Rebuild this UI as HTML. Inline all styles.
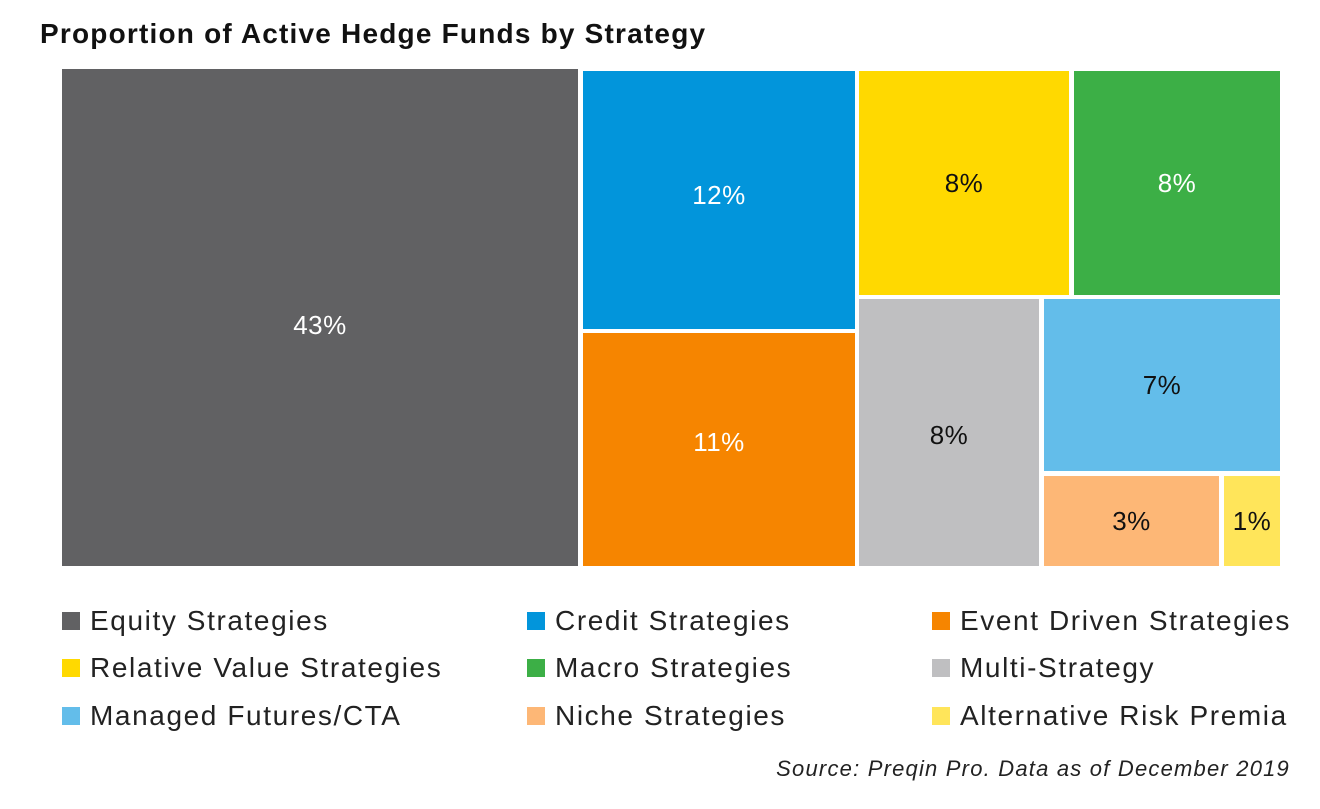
<!DOCTYPE html>
<html><head><meta charset="utf-8"><style>
body{margin:0;width:1320px;height:809px;background:#fff;font-family:"Liberation Sans",sans-serif;position:relative;overflow:hidden}
.t{position:absolute;left:40px;top:18px;font-size:28px;font-weight:bold;color:#111;letter-spacing:1.2px}
.r{position:absolute;display:flex;align-items:center;justify-content:center;font-size:26px;letter-spacing:0.5px}
.w{color:#fff}.k{color:#111}
.lg{position:absolute;font-size:28px;color:#222;display:flex;align-items:center;white-space:nowrap;letter-spacing:1.6px}
.lg i{display:inline-block;width:18px;height:18px;margin-right:10px}
.s{position:absolute;right:30px;top:756px;font-size:22px;font-style:italic;color:#222;letter-spacing:1.2px}
</style></head><body>
<div class="t">Proportion of Active Hedge Funds by Strategy</div>
<div class="r w" style="left:62px;top:69px;width:516px;height:497px;background:#616163"><span style="margin-top:16px">43%</span></div>
<div class="r w" style="left:583px;top:71px;width:272px;height:258px;background:#0295DB"><span style="margin-bottom:10px">12%</span></div>
<div class="r w" style="left:583px;top:333px;width:272px;height:233px;background:#F68500"><span style="margin-bottom:14px">11%</span></div>
<div class="r k" style="left:859px;top:71px;width:210px;height:224px;background:#FFD900">8%</div>
<div class="r w" style="left:1074px;top:71px;width:206px;height:224px;background:#3CAF46">8%</div>
<div class="r k" style="left:859px;top:299px;width:180px;height:267px;background:#BFBFC1"><span style="margin-top:6px">8%</span></div>
<div class="r k" style="left:1044px;top:299px;width:236px;height:172px;background:#63BDEA">7%</div>
<div class="r k" style="left:1044px;top:476px;width:175px;height:90px;background:#FDB776">3%</div>
<div class="r k" style="left:1224px;top:476px;width:56px;height:90px;background:#FFE55A">1%</div>
<div class="lg" style="left:62px;top:605px"><i style="background:#616163"></i>Equity Strategies</div>
<div class="lg" style="left:527px;top:605px"><i style="background:#0295DB"></i>Credit Strategies</div>
<div class="lg" style="left:932px;top:605px"><i style="background:#F68500"></i>Event Driven Strategies</div>
<div class="lg" style="left:62px;top:652px"><i style="background:#FFD900"></i>Relative Value Strategies</div>
<div class="lg" style="left:527px;top:652px"><i style="background:#3CAF46"></i>Macro Strategies</div>
<div class="lg" style="left:932px;top:652px"><i style="background:#BFBFC1"></i>Multi-Strategy</div>
<div class="lg" style="left:62px;top:700px"><i style="background:#63BDEA"></i>Managed Futures/CTA</div>
<div class="lg" style="left:527px;top:700px"><i style="background:#FDB776"></i>Niche Strategies</div>
<div class="lg" style="left:932px;top:700px"><i style="background:#FFE55A"></i>Alternative Risk Premia</div>
<div class="s">Source: Preqin Pro. Data as of December 2019</div>
</body></html>
